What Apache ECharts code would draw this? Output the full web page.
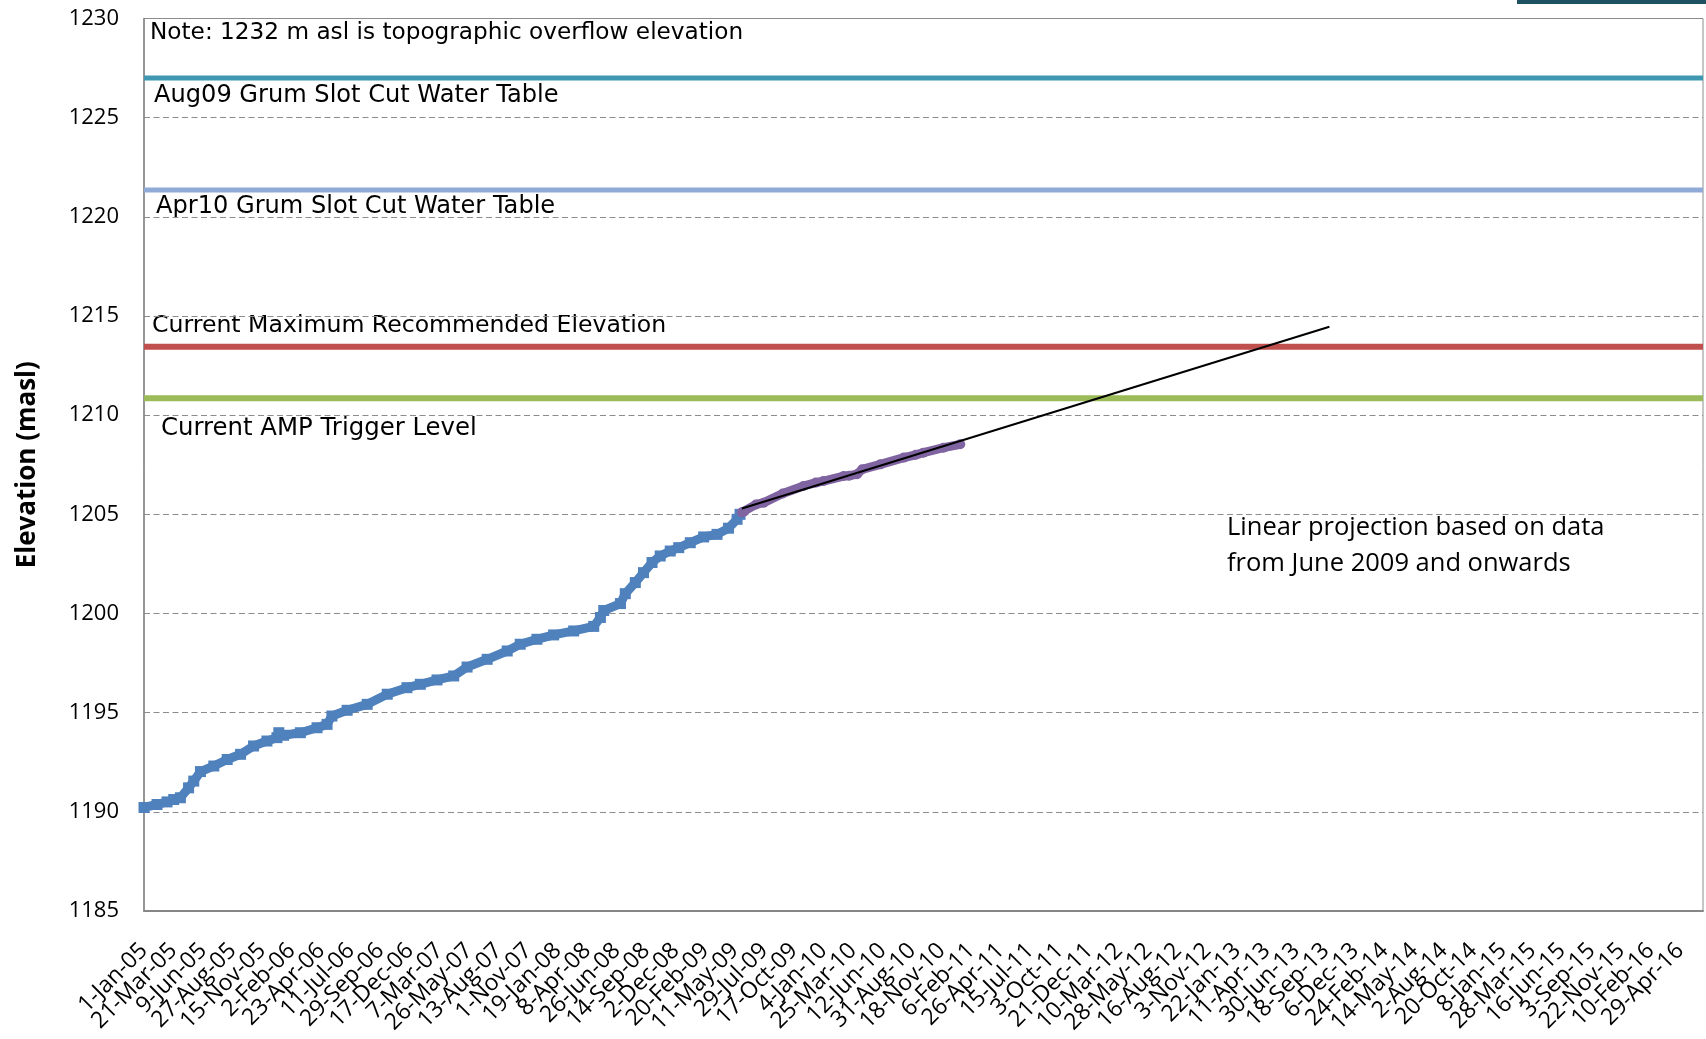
<!DOCTYPE html>
<html>
<head>
<meta charset="utf-8">
<title>Elevation (masl)</title>
<script src="https://cdn.jsdelivr.net/npm/echarts@6/dist/echarts.min.js"></script>
<style>
  html, body { margin: 0; padding: 0; background: #fff; }
  #chart { width: 1706px; height: 1039px; }
</style>
</head>
<body>
<div id="chart"></div>
<script>
// x values are days counted from 1-Jan-05
const blueDays = [0, 35, 62, 80, 98, 120, 134, 152, 188, 224, 260, 295, 331, 358, 363, 376, 421, 466, 493, 506,
  547, 601, 655, 708, 744, 789, 834, 870, 924, 978, 1013, 1058, 1103, 1157, 1211, 1229, 1238, 1283, 1296, 1323,
  1345, 1368, 1390, 1417, 1440, 1471, 1507, 1543, 1574, 1597, 1605]
const blueLevels = [1190.22, 1190.37, 1190.5, 1190.62, 1190.71, 1191.21, 1191.55, 1192.03, 1192.31, 1192.64,
  1192.9, 1193.32, 1193.57, 1193.74, 1193.99, 1193.86, 1193.99, 1194.24, 1194.41, 1194.83,
  1195.12, 1195.42, 1195.93, 1196.26, 1196.43, 1196.65, 1196.85, 1197.3, 1197.69, 1198.11,
  1198.45, 1198.7, 1198.92, 1199.12, 1199.35, 1199.8, 1200.15, 1200.5, 1201.0, 1201.56,
  1202.06, 1202.57, 1202.9, 1203.15, 1203.32, 1203.57, 1203.86, 1203.99, 1204.3, 1204.75, 1205.0]

const purpleDays = [1610, 1615, 1648, 1669, 1720, 1776, 1809, 1830, 1884, 1899, 1920, 1934, 1983, 2046, 2078, 2099, 2153, 2198]
const purpleLevels = [1205.1, 1205.13, 1205.5, 1205.59, 1206.05, 1206.43, 1206.6, 1206.68, 1206.93, 1206.95,
  1207.02, 1207.27, 1207.52, 1207.86, 1208.0, 1208.11, 1208.36, 1208.53]

// linear projection runs up to this day
const projectionEndDay = 3192

const levelNames = ['Aug09 Grum Slot Cut Water Table', 'Apr10 Grum Slot Cut Water Table',
  'Current Maximum Recommended Elevation', 'Current AMP Trigger Level']
const levelValues = [1227, 1221.35, 1213.45, 1210.85]
const levelColors = ['#3f98b1', '#8faad6', '#c0504d', '#9bbb59']

const noteText = 'Note: 1232 m asl is topographic overflow elevation'
const projectionText = 'Linear projection based on data\nfrom June 2009 and onwards'

const yMin = 1185
const yMax = 1230
const yStep = 5
const xMaxDay = 4198
const xTickDays = 79.5505

const months = ['Jan', 'Feb', 'Mar', 'Apr', 'May', 'Jun', 'Jul', 'Aug', 'Sep', 'Oct', 'Nov', 'Dec']
const origin = Date.UTC(2005, 0, 1)
const fmtDay = (v) => {
  const d = new Date(origin + Math.floor(v + 1e-6) * 86400000)
  return d.getUTCDate() + '-' + months[d.getUTCMonth()] + '-' + String(d.getUTCFullYear()).slice(2)
}

// least squares line through the purple series
const fitLine = (xs, ys) => {
  const n = xs.length
  const mx = xs.reduce((s, v) => s + v, 0) / n
  const my = ys.reduce((s, v) => s + v, 0) / n
  let sxy = 0, sxx = 0
  xs.forEach((x, i) => { sxy += (x - mx) * (ys[i] - my); sxx += (x - mx) * (x - mx) })
  const b = sxy / sxx
  return { a: my - b * mx, b }
}
const trend = fitLine(purpleDays, purpleLevels)
const trendDays = [purpleDays[0], projectionEndDay]

const zip = (xs, ys) => xs.map((x, i) => [x, ys[i]])

const levelSeries = levelValues.map((v, i) => ({
  name: levelNames[i],
  type: 'line',
  data: [[0, v], [xMaxDay, v]],
  symbol: 'none',
  lineStyle: { color: levelColors[i], width: i < 2 ? 5 : 6 },
  silent: true,
  z: 2,
}))

const label = (id, text, left, top, size) => ({
  id, type: 'text', left, top,
  style: { text, font: size + 'px "DejaVu Sans"', fill: '#000' },
})

const xLabelFont = '23px "Open Sans"'
const xLabelMargin = 36

const chart = echarts.init(document.getElementById('chart'))

chart.setOption({
  animation: false,
  backgroundColor: '#fff',
  grid: { left: 144, right: 3, top: 18.5, bottom: 128, show: true, borderColor: '#8c8c8c', borderWidth: 1 },
  xAxis: {
    type: 'value',
    min: 0,
    max: xMaxDay,
    interval: xTickDays,
    axisLine: { show: true, lineStyle: { color: '#868686', width: 2 } },
    axisTick: { show: false },
    splitLine: { show: false },
    axisLabel: {
      rotate: 45,
      margin: xLabelMargin,
      color: '#000',
      fontFamily: 'Open Sans',
      fontSize: 23,
      formatter: fmtDay,
      // the min label is drawn below so that the next one is not dropped
      showMinLabel: false,
      showMaxLabel: false,
    },
  },
  yAxis: {
    type: 'value',
    min: yMin,
    max: yMax,
    interval: yStep,
    name: 'Elevation (masl)',
    nameLocation: 'middle',
    nameRotate: 90,
    nameGap: 103,
    nameTextStyle: { fontFamily: 'Open Sans', fontWeight: 'bold', fontSize: 26, color: '#000' },
    axisLine: { show: true, lineStyle: { color: '#868686', width: 1.5 } },
    axisTick: { show: false },
    splitLine: { lineStyle: { color: '#8c8c8c', type: [6, 3.5], width: 1.2 } },
    axisLabel: { margin: 25, color: '#000', fontFamily: 'Open Sans', fontSize: 22, formatter: v => String(v) },
  },
  series: [
    ...levelSeries,
    {
      name: 'Measured',
      type: 'line',
      data: zip(blueDays, blueLevels),
      symbol: 'rect',
      symbolSize: 11,
      itemStyle: { color: '#4f81bd' },
      lineStyle: { color: '#4f81bd', width: 9 },
      z: 3,
    },
    {
      name: 'Since June 2009',
      type: 'line',
      data: zip(purpleDays, purpleLevels),
      symbol: 'circle',
      symbolSize: 10,
      itemStyle: { color: '#8064a2' },
      lineStyle: { color: '#8064a2', width: 9 },
      z: 4,
    },
    {
      name: 'Linear projection',
      type: 'line',
      data: trendDays.map(d => [d, trend.a + trend.b * d]),
      symbol: 'none',
      lineStyle: { color: '#000', width: 2 },
      z: 5,
    },
  ],
  graphic: [
    { id: 'corner', type: 'rect', shape: { x: 1517, y: 0, width: 189, height: 4 }, style: { fill: '#1e5162' }, silent: true },
    label('note', noteText, 150, 21, 23.2),
    label('lvl0', levelNames[0], 154, 84, 24.1),
    label('lvl1', levelNames[1], 156, 195, 24.1),
    label('lvl2', levelNames[2], 152, 314, 23.6),
    label('lvl3', levelNames[3], 161, 417, 24.4),
    { id: 'proj', type: 'text', left: 1227, top: 510, style: { text: projectionText, font: '25.5px "Open Sans"', lineHeight: 36, fill: '#000' } },
  ],
})

// first date label, placed at the axis origin like the other tick labels
const [x0, yAxisLine] = chart.convertToPixel({ gridIndex: 0 }, [0, yMin])
chart.setOption({
  graphic: [{
    id: 'minLabel',
    type: 'text',
    x: x0,
    y: yAxisLine + xLabelMargin,
    rotation: Math.PI / 4,
    style: { text: fmtDay(0), font: xLabelFont, fill: '#000', align: 'right', verticalAlign: 'middle' },
  }],
})
</script>
</body>
</html>
